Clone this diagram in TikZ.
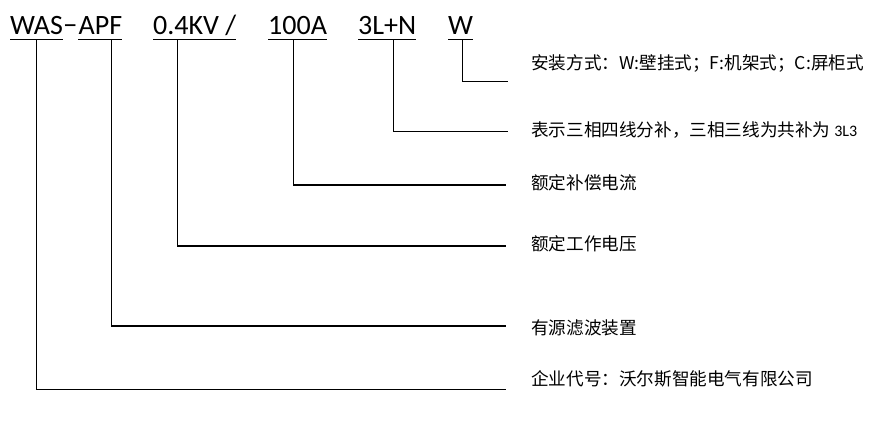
\documentclass[tikz,border=0pt]{standalone}
\usepackage{fontspec}
\setmainfont{Carlito}
\newfontfamily\cjk{Noto Sans CJK SC}
\begin{document}
\begin{tikzpicture}[x=1pt,y=-1pt,
  lab/.style={font=\fontsize{28}{30}\selectfont, inner sep=0pt, anchor=base west},
  desc/.style={font=\cjk\fontsize{17.6}{20}\selectfont, inner sep=0pt, anchor=west},
  ul/.style={line width=1.5pt},
  conn/.style={line width=1.4pt, line cap=rect}]
\useasboundingbox (0,0) rectangle (882,426);
% code labels
\node[lab] (was) at (10,34.7) {WAS};
\node[lab] (dash) at (was.base east) {−};
\node[lab] (apf) at ([xshift=1pt]dash.base east) {APF};
\node[lab] (kv) at (153,34.7) {0.4KV /};
\node[lab] (amp) at (268,34.7) {100A};
\node[lab] (tl) at (358,34.7) {3L+N};
\node[lab] (w) at (448,34.7) {W};
\foreach \n in {was,apf,kv,amp,tl,w}
  \draw[ul] ([yshift=-4.8pt]\n.base west) -- ([yshift=-4.8pt]\n.base east);
% descriptions
\node[desc] (d1) at (531,63) {安装方式：W:壁挂式；F:机架式；C:屏柜式};
\node[desc] (d2) at (531,130) {表示三相四线分补，三相三线为共补为 {\fontspec{Carlito}\fontsize{16}{16}\selectfont 3L3}};
\node[desc] (d3) at (531,183) {额定补偿电流};
\node[desc] (d4) at (531,244) {额定工作电压};
\node[desc] (d5) at (531,328) {有源滤波装置};
\node[desc] (d6) at (531,379) {企业代号：沃尔斯智能电气有限公司};
% connector ends
\coordinate (e1) at (507.7,81.3);
\coordinate (e2) at (507.7,131.7);
\coordinate (e3) at (505,185);
\coordinate (e4) at (505,246);
\coordinate (e5) at (505,326);
\coordinate (e6) at (505,389.3);
% connectors
\draw[conn] (w.base west) ++(14.7,4.8) |- (e1);
\draw[conn] (tl.base west) ++(35.7,4.8) |- (e2);
\draw[conn] (amp.base west) ++(25.7,4.8) |- (e3);
\draw[conn] (kv.base west) ++(24.3,4.8) |- (e4);
\draw[conn] (apf.base west) ++(33.3,4.8) |- (e5);
\draw[conn] (was.base west) ++(26.3,4.8) |- (e6);
\end{tikzpicture}
\end{document}
